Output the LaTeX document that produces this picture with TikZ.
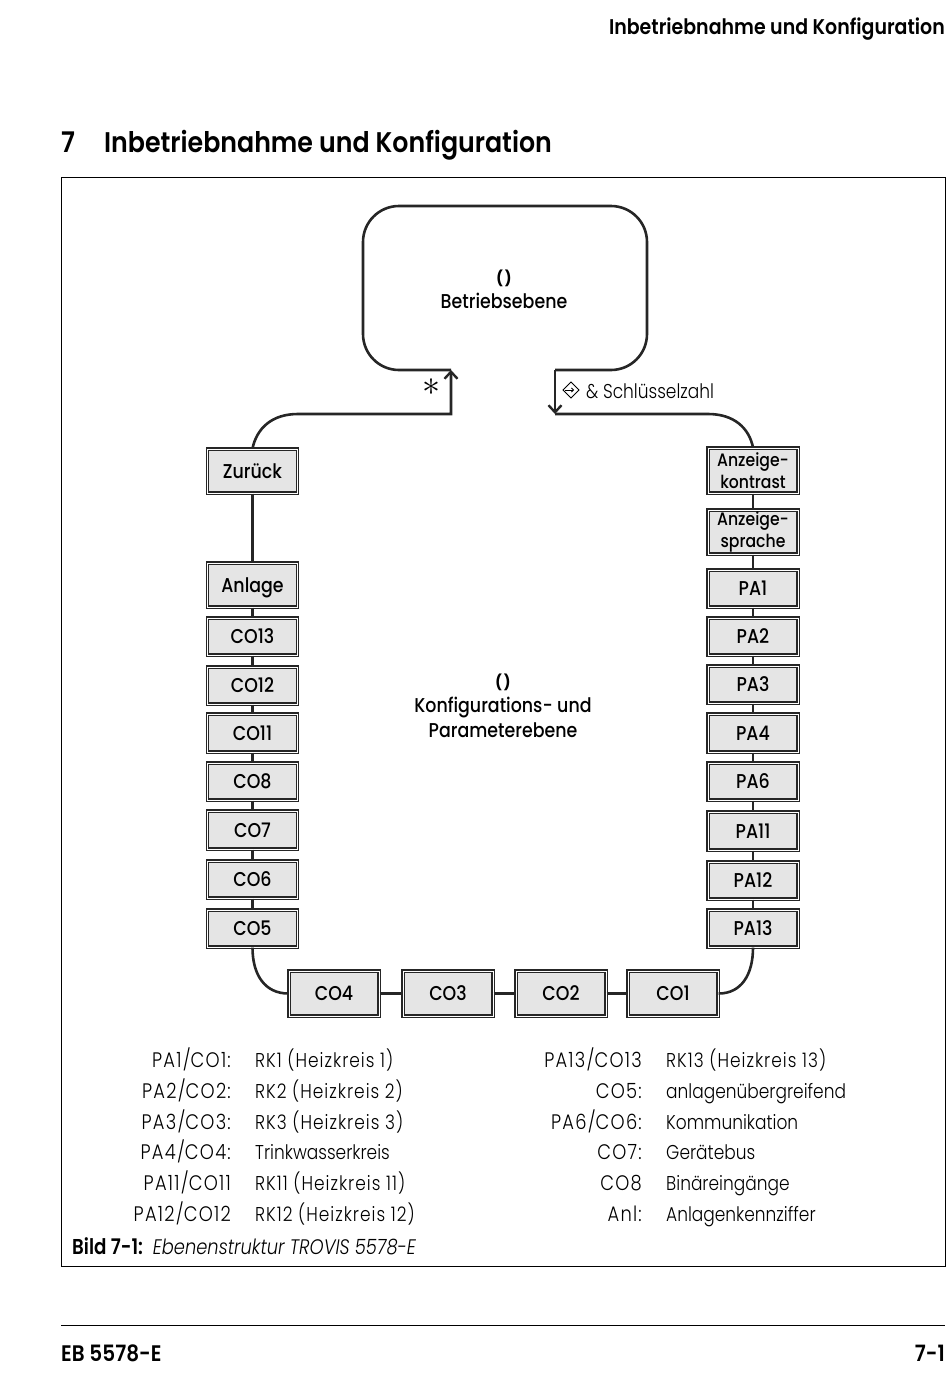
\documentclass[tikz,border=0pt]{standalone}
\usepackage{fontspec}
\setmainfont[FakeStretch=0.89, BoldFont={Poppins SemiBold}, BoldFeatures={FakeStretch=0.89}]{Poppins}
\newfontfamily\lightfont[FakeStretch=0.85, Numbers=Monospaced]{Poppins Light}
\newfontfamily\mediumfont[FakeStretch=0.87]{Poppins Medium}
\usetikzlibrary{arrows.meta}
\tikzset{
    ebox/.style={draw=black!85, line width=1.3pt, double=white, double distance=0.8pt, fill=black!10, minimum width=90pt, minimum height=36pt, inner sep=0pt, align=center, font=\fontsize{20}{22}\mediumfont},
    link/.style={line width=2.6pt, black!85},
    level/.style={align=center, font=\fontsize{20}{25}\mediumfont},
    legend/.style={font=\fontsize{20}{22}\lightfont},
    legendcode/.style={font=\fontsize{21}{22}\lightfont\addfontfeature{LetterSpace=6}},
    legendrk/.style={font=\fontsize{20}{22}\lightfont\addfontfeature{LetterSpace=5}},
    arrowtip/.style={-{Straight Barb[length=7pt,width=13pt,line width=2.4pt]}}
}
\begin{document}
\begin{tikzpicture}[x=1pt, y=-1pt]
    \useasboundingbox (0,0) rectangle (950,1392);

    % Page furniture
    \node[anchor=base east, inner sep=0pt, font=\fontsize{21.3}{24}\selectfont\bfseries] (header) at (945,34) {Inbetriebnahme und Konfiguration};
    \node[anchor=base west, inner sep=0pt, font=\fontsize{28.4}{32}\selectfont\bfseries] (chapnum) at (61,152) {7};
    \node[anchor=base west, inner sep=0pt, font=\fontsize{28.4}{32}\selectfont\bfseries] (chaptitle) at (104,152) {Inbetriebnahme und Konfiguration};
    \draw[line width=1pt] (61,177) rectangle (945,1266);
    \draw[line width=1pt] (61,1325) -- (945,1325);
    \node[anchor=base west, inner sep=0pt, font=\fontsize{22.5}{24}\selectfont\bfseries] (footleft) at (61,1361) {EB 5578-E};
    \node[anchor=base east, inner sep=0pt, font=\fontsize{22.5}{24}\selectfont\bfseries] (footright) at (945,1361) {7-1};

    % Left column
    \foreach \name/\y/\h in {CO13/636.5/37, CO12/685.5/37, CO11/733/38, CO8/781.5/37, CO7/830/38, CO6/879.5/37, CO5/928.5/37} {
        \node[ebox, minimum height=\h pt] (\name) at (252.5,\y) {\name};
    }
    \node[ebox, minimum height=44pt, text depth=0pt] (back) at (252.5,471) {Zurück};
    \node[ebox, minimum height=44pt, text depth=0pt] (plant) at (252.5,585) {Anlage};

    % Right column
    \foreach \name/\y/\h in {PA1/588.5/37, PA2/636.5/37, PA3/684.5/37, PA4/733/38, PA6/781.5/37, PA11/831/38, PA12/880.5/37, PA13/928.5/37} {
        \node[ebox, minimum height=\h pt] (\name) at (753,\y) {\name};
    }
    \node[ebox, minimum height=45pt, font=\fontsize{18}{22}\mediumfont] (contrast) at (753,470.5) {Anzeige-\\kontrast};
    \node[ebox, minimum height=44pt, font=\fontsize{18}{22}\mediumfont] (language) at (753,532) {Anzeige-\\sprache};

    % Bottom row
    \foreach \name/\x in {CO4/334, CO3/448, CO2/561, CO1/673} {
        \node[ebox, minimum height=45pt] (\name) at (\x,993.5) {\name};
    }

    % Connectors
    \foreach \a/\b in {back/plant, plant/CO13, CO13/CO12, CO12/CO11, CO11/CO8, CO8/CO7, CO7/CO6, CO6/CO5, contrast/language, language/PA1, PA1/PA2, PA2/PA3, PA3/PA4, PA4/PA6, PA6/PA11, PA11/PA12, PA12/PA13} {
        \draw[link] (\a) -- (\b);
    }
    \foreach \a/\b in {CO4/CO3, CO3/CO2, CO2/CO1} {
        \draw[link] (\a) -- (\b);
    }
    \draw[link] (CO5.south) .. controls (252.5,975) and (265,993.5) .. (CO4.west);
    \draw[link] (PA13.south) .. controls (753,975) and (741,993.5) .. (CO1.east);

    % Main level loop
    \coordinate (returnend) at (451,370);
    \coordinate (returncorner) at (451,414);
    \coordinate (enterstart) at (555,370);
    \coordinate (entercorner) at (555,414);
    \draw[link, arrowtip] (back.north) .. controls (257,428) and (272,414) .. (298,414) -- (returncorner) -- (returnend);
    \draw[link] (contrast.north) .. controls (749,428) and (734,414) .. (708,414) -- (entercorner);
    \draw[link, rounded corners=36pt] (returnend) -- (363,370) -- (363,206) -- (647,206) -- (647,370) -- (enterstart);
    \draw[link, arrowtip] (enterstart) -- (entercorner);

    % Level labels
    \node[level] (mainlevel) at (504,289) {{\fontsize{15}{25}\selectfont\bfseries (\,)}\\Betriebsebene};
    \node[level] (cfglevel) at (503,706) {{\fontsize{15}{25}\selectfont\bfseries (\,)}\\Konfigurations- und\\Parameterebene};
    \node[inner sep=0pt] (star) at (431,387) {\scalebox{3.6}{$\ast$}};

    % Key symbol and code label
    \draw[line width=0.8pt] (571,382) -- (579,390) -- (571,398) -- (563,390) -- cycle;
    \draw[line width=0.8pt, -{Straight Barb[length=2pt,width=4pt]}] (565,390) -- (574,390);
    \node[anchor=base west, inner sep=0pt, legend] (keycode) at (586,398) {\& Schlüsselzahl};

    % Legend
    \foreach \n/\y/\a/\b in {l1/1067/PA1\slash CO1:/RK1 (Heizkreis 1), l2/1098/PA2\slash CO2:/RK2 (Heizkreis 2), l3/1129/PA3\slash CO3:/RK3 (Heizkreis 3), l5/1190/PA11\slash CO11/RK11 (Heizkreis 11), l6/1221/PA12\slash CO12/RK12 (Heizkreis 12)} {
        \node[anchor=base east, inner sep=0pt, legendcode] (\n a) at (231,\y) {\a};
        \node[anchor=base west, inner sep=0pt, legendrk] (\n b) at (255,\y) {\b};
    }
    \node[anchor=base east, inner sep=0pt, legendcode] (l4a) at (231,1159) {PA4\slash CO4:};
    \node[anchor=base west, inner sep=0pt, legend] (l4b) at (255,1159) {Trinkwasserkreis};
    \foreach \n/\y/\a/\b in {r2/1098/CO5:/anlagenübergreifend, r3/1129/PA6\slash CO6:/Kommunikation, r4/1159/CO7:/Gerätebus, r5/1190/CO8/Binäreingänge, r6/1221/Anl:/Anlagenkennziffer} {
        \node[anchor=base east, inner sep=0pt, legendcode] (\n a) at (642,\y) {\a};
        \node[anchor=base west, inner sep=0pt, legend] (\n b) at (666,\y) {\b};
    }
    \node[anchor=base east, inner sep=0pt, legendcode] (r1a) at (642,1067) {PA13\slash CO13};
    \node[anchor=base west, inner sep=0pt, legendrk] (r1b) at (666,1067) {RK13 (Heizkreis 13)};

    % Caption
    \node[anchor=base west, inner sep=0pt, font=\fontsize{21}{22}\lightfont] (caption) at (72,1254) {{\fontsize{21.5}{22}\selectfont\bfseries Bild 7-1:}\hspace{10pt}\textit{Ebenenstruktur TROVIS 5578-E}};
\end{tikzpicture}
\end{document}
